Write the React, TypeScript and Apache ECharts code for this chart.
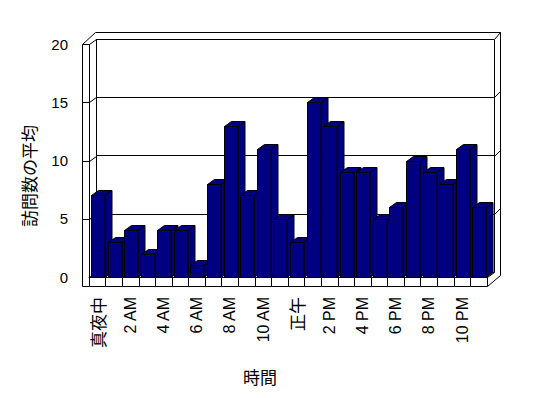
import React, { useEffect, useRef } from "react";
import * as echarts from "echarts";

const hours = [
  "真夜中", "1 AM", "2 AM", "3 AM", "4 AM", "5 AM", "6 AM", "7 AM", "8 AM", "9 AM", "10 AM", "11 AM",
  "正午", "1 PM", "2 PM", "3 PM", "4 PM", "5 PM", "6 PM", "7 PM", "8 PM", "9 PM", "10 PM", "11 PM",
];
const visits = [7, 3, 4, 2, 4, 4, 1, 8, 13, 7, 11, 5, 3, 15, 13, 9, 9, 5, 6, 10, 9, 8, 11, 6];
const yTicks = [5, 10, 15];
const yMin = 0;
const yMax = 20;
const yStep = 5;
const xTitle = "時間";
const yTitle = "訪問数の平均";

const DX = 7;
const DY = -5;
const WALL = 7;
const FLOOR = 9;
const NAVY = "#000080";
const LINE = { stroke: "#000", lineWidth: 1, fill: null as any };

function seg(x1: number, y1: number, x2: number, y2: number) {
  return { type: "line", shape: { x1, y1, x2, y2 }, style: LINE };
}

export default function App() {
  const ref = useRef<HTMLDivElement>(null);
  useEffect(() => {
    document.body.style.margin = "0";
    const chart = echarts.init(ref.current!, null, { renderer: "svg" });
    const latin = "'Liberation Sans', Arial, sans-serif";
    const cjk = "'Noto Sans CJK JP', sans-serif";
    chart.setOption({
      animation: false,
      backgroundColor: "#fff",
      grid: [
        { left: 89, top: 44, width: 398, height: 233 },
        { left: 96, top: 39, width: 398, height: 233 },
      ],
      xAxis: [
        {
          type: "category",
          gridIndex: 0,
          data: hours,
          axisLine: { show: true, lineStyle: { color: "#000", width: 1 } },
          axisTick: { show: true, interval: 0, length: FLOOR, lineStyle: { color: "#000", width: 1 } },
          axisLabel: {
            interval: 1,
            rotate: 90,
            margin: 20,
            color: "#000000",
            fontFamily: latin,
            fontSize: 16,
            formatter: (v: string) => (/[^\x00-\x7F]/.test(v) ? `{c|${v}}` : v),
            rich: { c: { fontFamily: cjk, fontSize: 17, color: "#000000" } },
          },
          splitLine: { show: false },
        },
        {
          type: "category",
          gridIndex: 1,
          data: hours,
          show: false,
        },
      ],
      yAxis: [
        {
          type: "value",
          gridIndex: 0,
          min: yMin,
          max: yMax,
          interval: yStep,
          axisLine: { show: false },
          axisTick: { show: false },
          splitLine: { show: false },
          axisLabel: { margin: 21, color: "#000", fontFamily: latin, fontSize: 15 },
        },
        {
          type: "value",
          gridIndex: 1,
          min: yMin,
          max: yMax,
          interval: yStep,
          axisLine: { show: false },
          axisTick: { show: false },
          axisLabel: { show: false },
          splitLine: { show: true, lineStyle: { color: "#000", width: 1 } },
        },
      ],
      graphic: [
        {
          type: "text",
          x: 28,
          y: 176,
          rotation: Math.PI / 2,
          style: { text: yTitle, font: `17px ${cjk}`, fill: "#000", align: "center", verticalAlign: "middle" },
        },
        {
          type: "text",
          x: 260,
          y: 376,
          style: { text: xTitle, font: `17px ${cjk}`, fill: "#000", align: "center", verticalAlign: "middle" },
        },
      ],
      series: [
        {
          type: "custom",
          xAxisIndex: 0,
          yAxisIndex: 0,
          z: 1,
          silent: true,
          data: [[0, 0]],
          renderItem: (params: any) => {
            const cs = params.coordSys;
            const X0 = Math.round(cs.x) + 0.5;
            const X1 = Math.round(cs.x + cs.width) + 0.5;
            const Y0 = Math.round(cs.y) + 0.5;
            const Y1 = Math.round(cs.y + cs.height) + 0.5;
            return {
              type: "group",
              children: [
                seg(X0 - WALL, Y0, X0 - WALL, Y1 + FLOOR),
                seg(X0 - WALL, Y1 + FLOOR, X1, Y1 + FLOOR),
                seg(X0, Y0, X0, Y1),
                seg(X0 - WALL, Y0, X0, Y0),
                seg(X0 - WALL, Y0, X0 + 6, Y0 - 12),
                seg(X0 + 6, Y0 - 12, X1 + 13, Y0 - 12),
                seg(X0, Y0, X0 + DX, Y0 + DY),
                seg(X1 + DX, Y0 + DY, X1 + 13, Y0 - 12),
                seg(X1 + 13, Y0 - 12, X1 + 13, Y1 - 2),
                seg(X1 + 13, Y1 - 2, X1, Y1 + FLOOR),
                seg(X1 + DX, Y0 + DY, X1 + DX, Y1 + DY),
                seg(X1 + DX, Y1 + DY, X1, Y1),
                seg(X0 + DX, Y0 + DY, X0 + DX, Y1 + DY),
                seg(X0, Y1, X0 + DX, Y1 + DY),
                seg(X1, Y1, X1, Y1 + FLOOR),
              ],
            };
          },
        },
        {
          type: "custom",
          xAxisIndex: 0,
          yAxisIndex: 0,
          z: 1,
          silent: true,
          data: yTicks.map((v) => [0, v]),
          renderItem: (params: any, api: any) => {
            const cs = params.coordSys;
            const X0 = Math.round(cs.x) + 0.5;
            const X1 = Math.round(cs.x + cs.width) + 0.5;
            const y = Math.round(api.coord([0, api.value(1)])[1]) + 0.5;
            return {
              type: "group",
              children: [
                seg(X0 - WALL, y, X0, y),
                seg(X0, y, X0 + DX, y + DY),
                seg(X1 + DX, y + DY, X1 + 13, y + DY - 6),
              ],
            };
          },
        },
        {
          type: "custom",
          xAxisIndex: 0,
          yAxisIndex: 0,
          z: 3,
          silent: true,
          data: visits.map((v, i) => [i, v]),
          renderItem: (params: any, api: any) => {
            const i = api.value(0);
            const v = api.value(1);
            const top = api.coord([i, v]);
            const base = api.coord([i, 0]);
            const bw = api.size([1, 0])[0];
            const left = Math.round(top[0] - bw * 0.38) + 0.5;
            const right = Math.round(left + bw * 0.8);
            const yt = Math.round(top[1]) + 0.5;
            const yb = Math.round(base[1]) + 0.5;
            const st = { fill: NAVY, stroke: "#000", lineWidth: 1 };
            return {
              type: "group",
              children: [
                {
                  type: "polygon",
                  shape: { points: [[right, yt], [right + DX, yt + DY], [right + DX, yb + DY], [right, yb]] },
                  style: st,
                },
                {
                  type: "polygon",
                  shape: { points: [[left, yt], [right, yt], [right + DX, yt + DY], [left + DX, yt + DY]] },
                  style: st,
                },
                {
                  type: "rect",
                  shape: { x: left, y: yt, width: right - left, height: yb - yt },
                  style: st,
                },
              ],
            };
          },
        },
      ],
    });
    return () => chart.dispose();
  }, []);
  return <div ref={ref} style={{ width: 548, height: 398 }} />;
}
